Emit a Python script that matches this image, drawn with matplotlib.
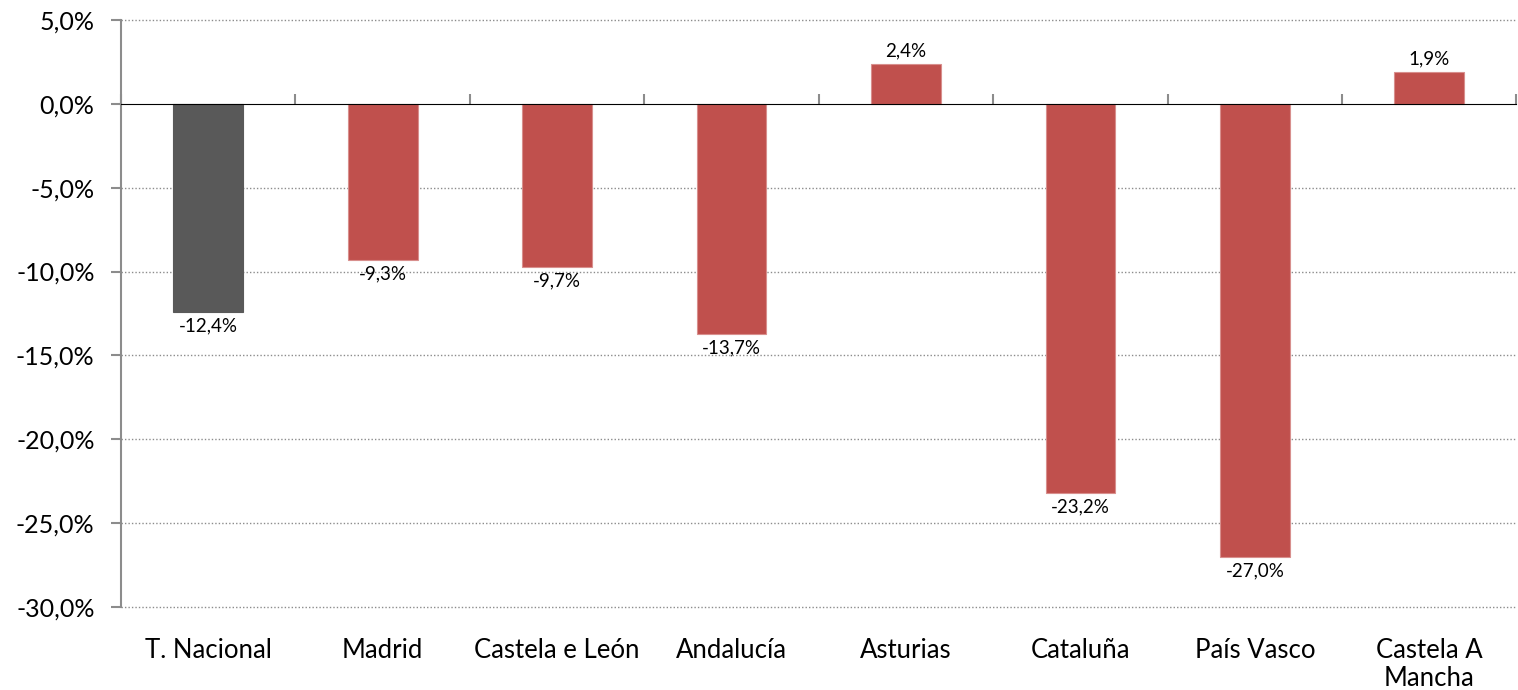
import matplotlib
matplotlib.use("Agg")
import matplotlib.pyplot as plt
from matplotlib.ticker import FuncFormatter, FixedLocator
import numpy as np

plt.rcParams['font.family'] = ['Lato', 'DejaVu Sans']

categories = ["T. Nacional", "Madrid", "Castela e León", "Andalucía", "Asturias",
              "Cataluña", "País Vasco", "Castela A\nMancha"]
values = [-12.4, -9.3, -9.7, -13.7, 2.4, -23.2, -27.0, 1.9]
colors = ["#595959"] + ["#C0504D"] * 7
edges = ["#595959"] + ["#D88F8D"] * 7
yticks = [5, 0, -5, -10, -15, -20, -25, -30]

fig = plt.figure(figsize=(15.18, 6.90), dpi=100)
ax = fig.add_axes([121/1518, 1 - 607/690, 1 - 121/1518 - 0.001, (607 - 20)/690])

x = np.arange(len(categories))
bars = ax.bar(x, values, width=0.4, color=colors, edgecolor=edges, linewidth=0.8, zorder=3)

ax.set_xlim(-0.5, len(categories) - 0.5)
ax.set_ylim(-30, 5)

fmt = lambda v: f"{v:.1f}".replace(".", ",") + "%"
ax.yaxis.set_major_locator(FixedLocator(yticks))
ax.yaxis.set_major_formatter(FuncFormatter(lambda v, p: fmt(v)))
for yv in yticks:
    if yv != 0:
        ax.axhline(yv, color="#8c8c8c", linestyle=(0, (1, 1.5)), linewidth=1.0,
                   zorder=1, clip_on=False)

for s in ["top", "right", "bottom"]:
    ax.spines[s].set_visible(False)
ax.spines["left"].set_color("#8c8c8c")
ax.spines["left"].set_linewidth(1.5)
ax.tick_params(axis="y", direction="out", length=7, width=1.5, color="#8c8c8c",
               labelsize=18, pad=12, labelcolor="black")

ax.set_xticks(x)
ax.set_xticklabels(categories, fontsize=18.5, linespacing=1.15)
ax.tick_params(axis="x", length=0, pad=22, labelcolor="black")

# zero axis line with boundary ticks
frac0 = (0 - (-30)) / 35
sec = ax.secondary_xaxis(frac0)
sec.set_xticks(np.arange(len(categories) + 1) - 0.5)
sec.set_xticklabels([])
sec.spines["bottom"].set_color("#8c8c8c")
sec.spines["bottom"].set_linewidth(1.5)
sec.tick_params(axis="x", direction="out", length=7, width=1.5, color="#8c8c8c")
sec.set_zorder(4)

for xi, v in zip(x, values):
    txt = fmt(v)
    if v < 0:
        ax.annotate(txt, (xi, v), xytext=(0, -4), textcoords="offset points",
                    ha="center", va="top", fontsize=13.5, zorder=5)
    else:
        ax.annotate(txt, (xi, v), xytext=(0, 3), textcoords="offset points",
                    ha="center", va="bottom", fontsize=13.5, zorder=5)

fig.savefig("out.png", dpi=100)
